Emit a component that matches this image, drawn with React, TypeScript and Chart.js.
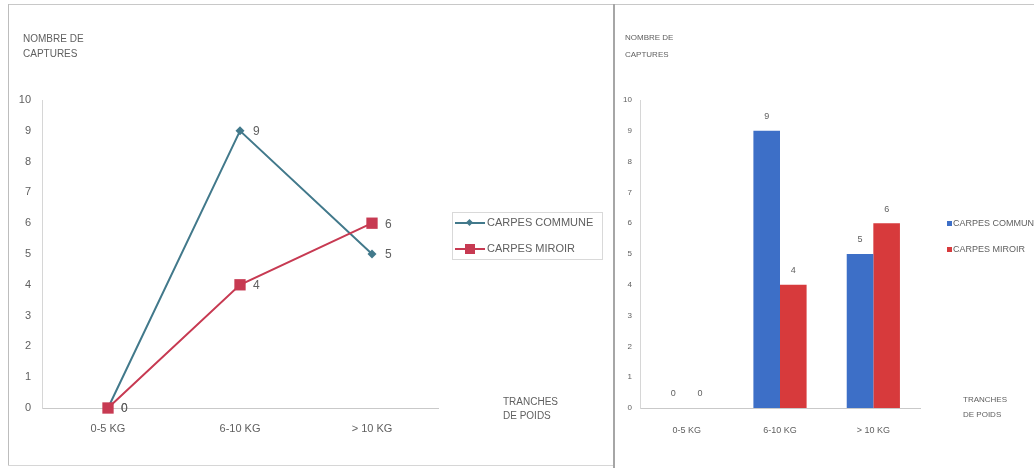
import React, { useEffect, useRef } from "react";
import { Chart, registerables } from "chart.js";

Chart.register(...registerables);

const categories = ["0-5 KG", "6-10 KG", "> 10 KG"];
const carpesCommune = [0, 9, 5];
const carpesMiroir = [0, 4, 6];
const seriesNames = ["CARPES COMMUNE", "CARPES MIROIR"];
const yMin = 0;
const yMax = 10;
const yStep = 1;
const yAxisTitle = ["NOMBRE DE", "CAPTURES"];
const xAxisTitle = ["TRANCHES", "DE POIDS"];

const FONT = "'Liberation Sans', Arial, sans-serif";
const TEXT = "#606060";
const LINE_BLUE = "#42798b";
const LINE_RED = "#c73a52";
const BAR_BLUE = "#3d6fc7";
const BAR_RED = "#d73a3c";

function makeValueLabels(mode: "right" | "top", fontSize: number, offset: number) {
  return {
    id: "valueLabels" + mode,
    afterDatasetsDraw(chart: any) {
      const ctx = chart.ctx;
      ctx.save();
      ctx.font = `${fontSize}px ${FONT}`;
      ctx.fillStyle = TEXT;
      ctx.textBaseline = "middle";
      chart.data.datasets.forEach((ds: any, i: number) => {
        const meta = chart.getDatasetMeta(i);
        meta.data.forEach((el: any, j: number) => {
          const v = String(ds.data[j]);
          if (mode === "right") {
            ctx.textAlign = "left";
            ctx.fillText(v, el.x + offset, el.y + 1);
          } else {
            ctx.textAlign = "center";
            ctx.fillText(v, el.x, el.y - offset);
          }
        });
      });
      ctx.restore();
    },
  };
}

function LineChart() {
  const ref = useRef<HTMLCanvasElement | null>(null);
  useEffect(() => {
    if (!ref.current) return;
    const chart = new Chart(ref.current, {
      type: "line",
      data: {
        labels: categories,
        datasets: [
          {
            label: seriesNames[0],
            data: carpesCommune,
            borderColor: LINE_BLUE,
            backgroundColor: LINE_BLUE,
            borderWidth: 2,
            pointStyle: "rectRot",
            pointRadius: 4.5,
            pointBorderWidth: 0,
            clip: false,
            order: 1,
          },
          {
            label: seriesNames[1],
            data: carpesMiroir,
            borderColor: LINE_RED,
            backgroundColor: LINE_RED,
            borderWidth: 2,
            pointStyle: "rect",
            pointRadius: 8,
            pointBorderWidth: 0,
            clip: false,
            order: 0,
          },
        ],
      },
      options: {
        responsive: false,
        animation: false,
        layout: { padding: { left: 12, right: 176, top: 100, bottom: 20 } },
        plugins: { legend: { display: false }, tooltip: { enabled: false } },
        scales: {
          x: {
            offset: true,
            grid: { display: false, drawTicks: false },
            border: { display: true, color: "#c9c9c9", width: 1 },
            ticks: { color: TEXT, font: { family: FONT, size: 11 }, padding: 14 },
            afterFit: (s: any) => { s.height = 40; },
          },
          y: {
            min: yMin,
            max: yMax,
            grid: { display: false, drawTicks: false },
            border: { display: true, color: "#d6d6d6", width: 1 },
            ticks: { stepSize: yStep, color: TEXT, font: { family: FONT, size: 11 }, padding: 11 },
            afterFit: (s: any) => { s.width = 30; },
          },
        },
      },
      plugins: [makeValueLabels("right", 12, 13)],
    });
    return () => chart.destroy();
  }, []);
  return (
    <canvas
      ref={ref}
      width={614}
      height={468}
      style={{ position: "absolute", left: 0, top: 0, width: 614, height: 468 }}
    />
  );
}

function BarChart() {
  const ref = useRef<HTMLCanvasElement | null>(null);
  useEffect(() => {
    if (!ref.current) return;
    const chart = new Chart(ref.current, {
      type: "bar",
      data: {
        labels: categories,
        datasets: [
          {
            label: seriesNames[0],
            data: carpesCommune,
            backgroundColor: BAR_BLUE,
            categoryPercentage: 0.57,
            barPercentage: 1,
          },
          {
            label: seriesNames[1],
            data: carpesMiroir,
            backgroundColor: BAR_RED,
            categoryPercentage: 0.57,
            barPercentage: 1,
          },
        ],
      },
      options: {
        responsive: false,
        animation: false,
        layout: { padding: { left: 6, right: 114, top: 100, bottom: 20 } },
        plugins: { legend: { display: false }, tooltip: { enabled: false } },
        scales: {
          x: {
            grid: { display: false, drawTicks: false },
            border: { display: true, color: "#c9c9c9", width: 1 },
            ticks: { color: TEXT, font: { family: FONT, size: 9 }, padding: 17 },
            afterFit: (s: any) => { s.height = 40; },
          },
          y: {
            min: yMin,
            max: yMax,
            grid: { display: false, drawTicks: false },
            border: { display: true, color: "#d6d6d6", width: 1 },
            ticks: { stepSize: yStep, color: TEXT, font: { family: FONT, size: 8 }, padding: 8 },
            afterFit: (s: any) => { s.width = 20; },
          },
        },
      },
      plugins: [makeValueLabels("top", 9, 14)],
    });
    return () => chart.destroy();
  }, []);
  return (
    <canvas
      ref={ref}
      width={420}
      height={468}
      style={{ position: "absolute", left: 614, top: 0, width: 420, height: 468 }}
    />
  );
}

const abs = (o: React.CSSProperties): React.CSSProperties => ({ position: "absolute", ...o });

export default function App() {
  const txt = (size: number): React.CSSProperties => ({
    fontFamily: FONT,
    fontSize: size,
    color: TEXT,
    lineHeight: 1,
    whiteSpace: "nowrap",
  });
  return (
    <div style={abs({ left: 0, top: 0, width: 1034, height: 468, overflow: "hidden", background: "#fff" })}>
      {/* frame */}
      <div style={abs({ left: 8, top: 4, width: 1026, height: 1, background: "#c8c8c8" })} />
      <div style={abs({ left: 8, top: 4, width: 1, height: 462, background: "#bdbdbd" })} />
      <div style={abs({ left: 8, top: 465, width: 606, height: 1, background: "#d6d6d6" })} />
      <div style={abs({ left: 613, top: 4, width: 2, height: 464, background: "#a6a6a6" })} />

      <LineChart />
      <BarChart />

      {/* left titles */}
      <div style={abs({ left: 23, top: 34, ...txt(10) })}>{yAxisTitle[0]}</div>
      <div style={abs({ left: 23, top: 49, ...txt(10) })}>{yAxisTitle[1]}</div>
      <div style={abs({ left: 503, top: 397, ...txt(10) })}>{xAxisTitle[0]}</div>
      <div style={abs({ left: 503, top: 411, ...txt(10) })}>{xAxisTitle[1]}</div>

      {/* left legend */}
      <div style={abs({ left: 452, top: 212, width: 151, height: 48, border: "1px solid #d9d9d9", boxSizing: "border-box" })} />
      {[0, 1].map((i) => (
        <div key={i} style={abs({ left: 455, top: i === 0 ? 217 : 243, height: 12, width: 150 })}>
          <div style={abs({ left: 0, top: 5, width: 30, height: 2, background: i === 0 ? LINE_BLUE : LINE_RED })} />
          {i === 0 ? (
            <div style={abs({ left: 12, top: 3, width: 5, height: 5, background: LINE_BLUE, transform: "rotate(45deg)" })} />
          ) : (
            <div style={abs({ left: 10, top: 1, width: 10, height: 10, background: LINE_RED })} />
          )}
          <div style={abs({ left: 32, top: 0, ...txt(11) })}>{seriesNames[i]}</div>
        </div>
      ))}

      {/* right titles */}
      <div style={abs({ left: 625, top: 34, ...txt(8) })}>{yAxisTitle[0]}</div>
      <div style={abs({ left: 625, top: 51, ...txt(8) })}>{yAxisTitle[1]}</div>
      <div style={abs({ left: 963, top: 396, ...txt(8) })}>{xAxisTitle[0]}</div>
      <div style={abs({ left: 963, top: 411, ...txt(8) })}>{xAxisTitle[1]}</div>

      {/* right legend */}
      {[0, 1].map((i) => (
        <div key={"r" + i} style={abs({ left: 947, top: i === 0 ? 219 : 245, height: 10, width: 100 })}>
          <div style={abs({ left: 0, top: 2, width: 5, height: 5, background: i === 0 ? BAR_BLUE : BAR_RED })} />
          <div style={abs({ left: 6, top: 0, ...txt(9) })}>{seriesNames[i]}</div>
        </div>
      ))}
    </div>
  );
}
